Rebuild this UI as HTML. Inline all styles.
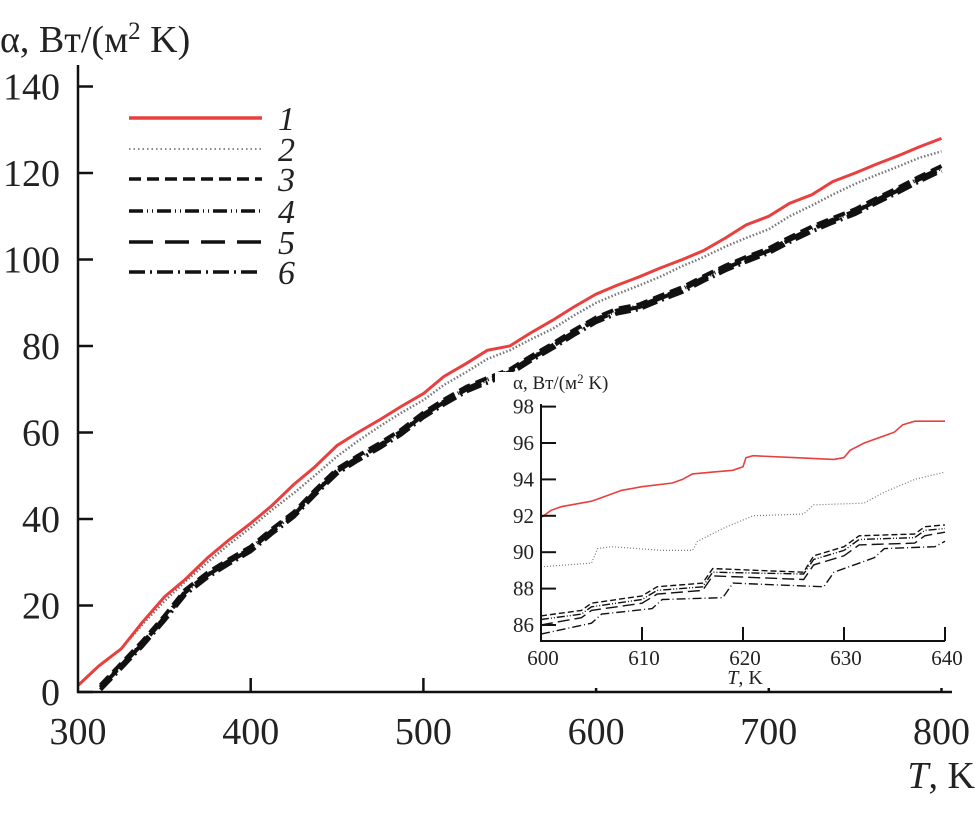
<!DOCTYPE html>
<html><head><meta charset="utf-8"><style>
body{margin:0;background:#fff;}
svg{display:block;font-family:"Liberation Serif",serif;}
</style></head><body>
<svg id="chart" width="978" height="831" viewBox="0 0 978 831"></svg>
<script>
// ---- main chart data ----
const mainT1 = [300,312,325,337,350,362,375,387,400,412,425,437,450,462,475,487,500,512,525,537,550,562,575,587,600,612,625,637,650,662,675,687,700,712,725,737,750,762,775,787,800];
const red1 = [1.5,6,10,16,22,26,31,35,39,43,48,52,57,60,63,66,69,73,76,79,80,83,86,89,92,94,96,98,100,102,105,108,110,113,115,118,120,122,124,126,128];
const dot2 = [1.5,6,10,15.5,21,25.5,30,34,38,42,46,50,54.5,58,61.5,64.5,67.5,71,74,77,79,81.5,84,87,90,92,94,96,98.5,100.5,103,105,107,110,112.5,115,117.5,119.5,121.5,123.5,125];
const mainT2 = [313,325,337,350,362,375,387,400,412,425,437,450,462,475,487,500,512,525,537,550,562,575,587,600,612,625,637,650,662,675,687,700,712,725,737,750,762,775,787,800];
const blk = [1,6,11,17,23,27,30,33,37,41,46,51,54,57,60,64,67,70,72,74,77,80,83,86,88,89,91,93,95.5,98,100,102,104.5,107,109,111,113.5,116,118.5,121];
const blkOffsets = [0.6, 0.2, 0, -0.5];
// ---- inset data ----
const insT1 = [600,601,602,605,606,608,610,613,614,615,617,619,620,620.3,621,625,629,630,630.6,632,635,635.8,637,640];
const insRed = [91.9,92.3,92.5,92.8,93.0,93.4,93.6,93.8,94.0,94.3,94.4,94.5,94.7,95.2,95.3,95.2,95.1,95.2,95.6,96.0,96.6,97.0,97.2,97.2];
const insT2 = [600,605,605.6,607,612,615,615.5,618,621,626,627,632,634,637,640];
const insDot = [89.2,89.4,90.2,90.3,90.1,90.1,90.6,91.3,92.0,92.1,92.6,92.7,93.3,94.0,94.4];
const insTb = [600,604,605,610,611.5,616,617,626,627,630,631.5,637,638,640];
const ins3 = [86.5,86.8,87.2,87.6,88.1,88.3,89.1,88.9,89.8,90.3,90.9,91.0,91.4,91.5];
const ins4 = [86.3,86.6,87.0,87.4,87.9,88.1,88.9,88.8,89.6,90.1,90.7,90.8,91.2,91.3];
const ins5 = [86.0,86.4,86.8,87.2,87.7,87.9,88.7,88.5,89.3,89.8,90.4,90.5,90.9,91.1];
const ins6T = [600,605,606,611,612,618,619,628,629,633,634,639,640];
const ins6 = [85.5,86.1,86.6,86.9,87.4,87.5,88.3,88.1,88.9,89.7,90.2,90.3,90.6];
const xTicks = [300,400,500,600,700,800];
const yTicks = [0,20,40,60,80,100,120,140];
const ixTicks = [600,610,620,630,640];
const iyTicks = [86,88,90,92,94,96,98];

const NS="http://www.w3.org/2000/svg";
const svg=document.getElementById('chart');
function mk(tag,attrs,parent){const e=document.createElementNS(NS,tag);for(const k in attrs)e.setAttribute(k,attrs[k]);(parent||svg).appendChild(e);return e;}
const X=t=>78+(t-300)*1.727;
const Y=v=>692-v*4.325;
const IX=t=>541+(t-600)*10.1;
const IY=v=>625-(v-86)*18.2;
function pathD(xs,ys,fx,fy){return xs.map((t,i)=>(i?'L':'M')+fx(t).toFixed(1)+','+fy(ys[i]).toFixed(1)).join(' ');}
const styles=[
 {stroke:'#e8403f',w:3,dash:''},
 {stroke:'#888',w:1.5,dash:'1.5 3'},
 {stroke:'#111',w:3.5,dash:'12 6'},
 {stroke:'#111',w:3.5,dash:'14 4 1 4 1 4'},
 {stroke:'#111',w:3.5,dash:'24 12'},
 {stroke:'#111',w:3.5,dash:'16 5 2 5'}
];
let p;
p=mk('path',{d:pathD(mainT1,dot2,X,Y),fill:'none',stroke:'#777','stroke-width':2.5,'stroke-dasharray':'1.5 2'});

for(let k=0;k<4;k++){
 const vals=blk.map(v=>v+blkOffsets[k]);
 p=mk('path',{d:pathD(mainT2,vals,X,Y),fill:'none',stroke:'#111','stroke-width':4,'stroke-dasharray':styles[k+2].dash});
 
}
p=mk('path',{d:pathD(mainT1,red1,X,Y),fill:'none',stroke:'#e8403f','stroke-width':3});

let a=mk('path',{d:'M78,65 L78,692 L952,692',fill:'none',stroke:'#111','stroke-width':2.5});

yTicks.forEach(v=>{
 mk('line',{x1:78,x2:93,y1:Y(v),y2:Y(v),stroke:'#111','stroke-width':2.5});
 const t=mk('text',{x:60,y:Y(v)+13,'text-anchor':'end','font-size':38,fill:'#222'});t.textContent=v;
 
});
xTicks.forEach(v=>{
 if(v>300)mk('line',{x1:X(v),x2:X(v),y1:692,y2:678,stroke:'#111','stroke-width':2.5});
 const t=mk('text',{x:X(v),y:744,'text-anchor':'middle','font-size':38,fill:'#222'});t.textContent=v;
 
});
let tt=mk('text',{x:0,y:52,'font-size':38,fill:'#222'});tt.innerHTML='α, Вт/(м<tspan font-size="25" dy="-13">2</tspan><tspan dy="13"> K)</tspan>';

tt=mk('text',{x:975,y:788,'text-anchor':'end','font-size':38,fill:'#222'});tt.innerHTML='<tspan font-style="italic">T</tspan>, K';

const legY=[118,149,179,211,242,272];
legY.forEach((y,i)=>{
 const s=styles[i];
 const l=mk('line',{x1:129,x2:262,y1:y,y2:y,stroke:s.stroke,'stroke-width':i==1?2:3.5,'stroke-dasharray':s.dash});
 
 const t=mk('text',{x:278,y:y+12,'font-size':34,'font-style':'italic',fill:'#222'});t.textContent=i+1;
 
});
const g=mk('g',{});
mk('rect',{x:495,y:372,width:475,height:316,fill:'#fff'},g);
p=mk('path',{d:pathD(insT2,insDot,IX,IY),fill:'none',stroke:'#777','stroke-width':1.2,'stroke-dasharray':'1 2'},g);

[[insTb,ins3,'6 3'],[insTb,ins4,'8 2 1 2 1 2'],[insTb,ins5,'12 5'],[ins6T,ins6,'9 3 1 3']].forEach((s,k)=>{
 p=mk('path',{d:pathD(s[0],s[1],IX,IY),fill:'none',stroke:'#111','stroke-width':1.4,'stroke-dasharray':s[2]},g);
 
});
p=mk('path',{d:pathD(insT1,insRed,IX,IY),fill:'none',stroke:'#e8403f','stroke-width':1.6},g);

mk('path',{d:'M541,404 L541,641 L945,641',fill:'none',stroke:'#111','stroke-width':2},g);
iyTicks.forEach(v=>{
 mk('line',{x1:541,x2:556,y1:IY(v),y2:IY(v),stroke:'#111','stroke-width':2},g);
 const t=mk('text',{x:534,y:IY(v)+7,'text-anchor':'end','font-size':21,fill:'#222'},g);t.textContent=v;
 
});
ixTicks.forEach(v=>{
 mk('line',{x1:IX(v),x2:IX(v),y1:641,y2:627,stroke:'#111','stroke-width':2},g);
 const t=mk('text',{x:IX(v)+2,y:665,'text-anchor':'middle','font-size':21,fill:'#222'},g);t.textContent=v;
 
});
tt=mk('text',{x:513,y:389,'font-size':19,fill:'#222'},g);tt.innerHTML='α, Вт/(м<tspan font-size="13" dy="-6">2</tspan><tspan dy="6"> K)</tspan>';

tt=mk('text',{x:745,y:684,'font-size':20,fill:'#222','text-anchor':'middle'},g);tt.innerHTML='<tspan font-style="italic">T</tspan>, K';

</script>
</body></html>
